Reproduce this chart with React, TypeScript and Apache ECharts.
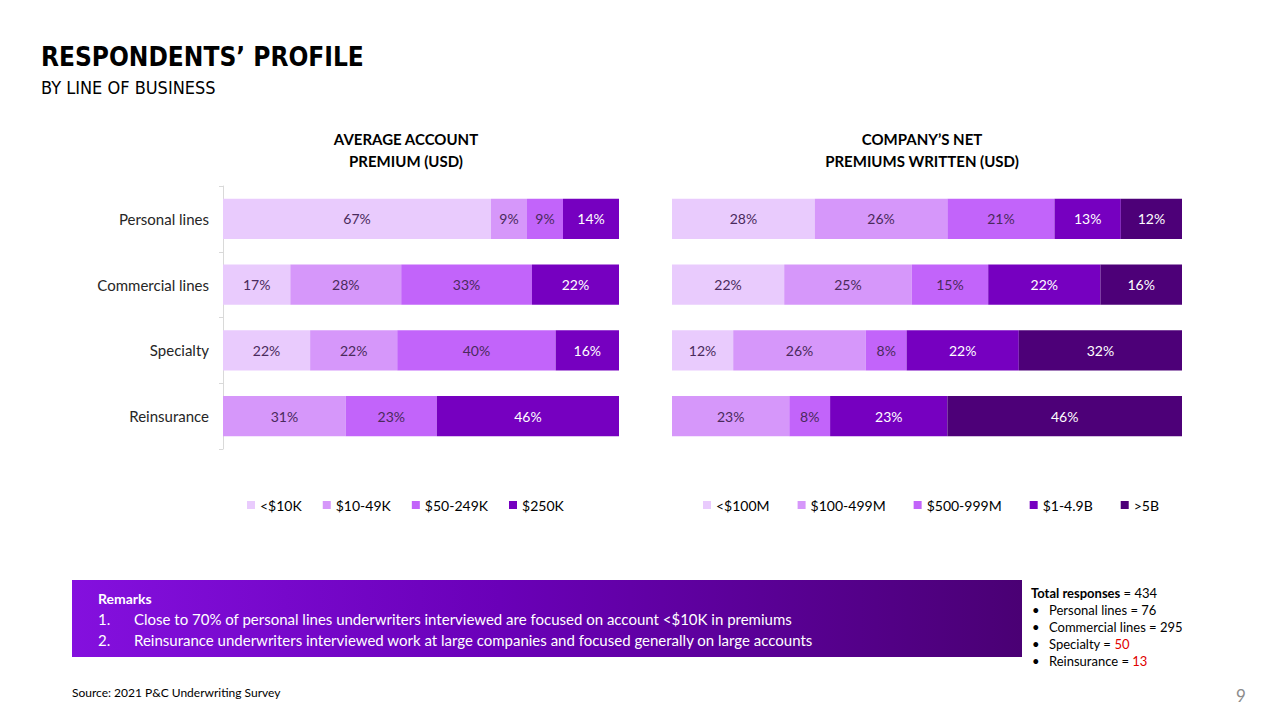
import React, { useEffect, useRef } from "react";
import * as echarts from "echarts";

const categories = ["Personal lines", "Commercial lines", "Specialty", "Reinsurance"];

const premiumBands = ["<$10K", "$10-49K", "$50-249K", "$250K"];
const premiumValues: number[][] = [
  [67, 17, 22, 0],
  [9, 28, 22, 31],
  [9, 33, 40, 23],
  [14, 22, 16, 46],
];

const companyBands = ["<$100M", "$100-499M", "$500-999M", "$1-4.9B", ">5B"];
const companyValues: number[][] = [
  [28, 22, 12, 0],
  [26, 25, 26, 23],
  [21, 15, 8, 8],
  [13, 22, 22, 23],
  [12, 16, 32, 46],
];

const premiumColors = ["#E9CBFD", "#D697FA", "#C264FA", "#7600C0"];
const companyColors = ["#E9CBFD", "#D697FA", "#C264FA", "#7600C0", "#4D0078"];
const labelColors = ["#4A2A5C", "#4A2A5C", "#4A2A5C", "#FFFFFF", "#FFFFFF"];

const remarks = [
  "Close to 70% of personal lines underwriters interviewed are focused on account <$10K in premiums",
  "Reinsurance underwriters interviewed work at large companies and focused generally on large accounts",
];

const totals = [
  "Personal lines = 76",
  "Commercial lines = 295",
  "Specialty = {r|50}",
  "Reinsurance = {r|13}",
];

const FONT = "Lato, 'Open Sans', sans-serif";
const NARROW = "'Liberation Sans Narrow', 'DejaVu Sans Condensed', 'Roboto Condensed', 'DejaVu Sans', sans-serif";

function normalize(values: number[][]): number[][] {
  const n = values[0].length;
  const sums = Array.from({ length: n }, (_, i) => values.reduce((s, row) => s + row[i], 0));
  return values.map((row) => row.map((v, i) => (v / sums[i]) * 100));
}

function buildSeries(
  names: string[],
  values: number[][],
  colors: string[],
  axisIndex: number,
  stack: string
) {
  const norm = normalize(values);
  return names.map((name, si) => ({
    name,
    type: "bar",
    stack,
    xAxisIndex: axisIndex,
    yAxisIndex: axisIndex,
    barCategoryGap: "39%",
    data: norm[si],
    itemStyle: { color: colors[si] },
    label: {
      show: true,
      position: "inside",
      fontFamily: FONT,
      fontSize: 14,
      color: labelColors[si],
      formatter: (p: any) => {
        const v = values[si][p.dataIndex];
        return v > 0 ? v + "%" : "";
      },
    },
  }));
}

export default function App() {
  const ref = useRef<HTMLDivElement>(null);
  useEffect(() => {
    if (!ref.current) return;
    const chart = echarts.init(ref.current, undefined, { renderer: "svg" });
    const text = (x: number, y: number, t: string, opts: any = {}) => ({
      type: "text",
      x,
      y,
      style: {
        text: t,
        fontFamily: FONT,
        fontSize: 14,
        fill: "#000",
        align: "left",
        verticalAlign: "middle",
        ...opts,
      },
    });
    const option: any = {
      animation: false,
      backgroundColor: "#FFFFFF",
      grid: [
        { left: 223, width: 396, top: 186, height: 263 },
        { left: 672, width: 510, top: 186, height: 263 },
      ],
      xAxis: [0, 1].map((i) => ({
        type: "value",
        gridIndex: i,
        min: 0,
        max: 100,
        show: false,
      })),
      yAxis: [
        {
          type: "category",
          gridIndex: 0,
          inverse: true,
          data: categories,
          axisLine: { show: true, lineStyle: { color: "#D9D9D9" } },
          axisTick: { show: true, length: 4, lineStyle: { color: "#D9D9D9" } },
          axisLabel: { fontFamily: FONT, fontSize: 15, color: "#262626", margin: 14 },
        },
        {
          type: "category",
          gridIndex: 1,
          inverse: true,
          data: categories,
          axisLine: { show: false },
          axisTick: { show: false },
          axisLabel: { show: false },
        },
      ],
      legend: [
        {
          data: premiumBands,
          left: 242,
          top: 493,
          icon: "rect",
          itemWidth: 8,
          itemHeight: 8,
          itemGap: 21,
          textStyle: { fontFamily: FONT, fontSize: 14, color: "#000" },
        },
        {
          data: companyBands,
          left: 698,
          top: 493,
          icon: "rect",
          itemWidth: 8,
          itemHeight: 8,
          itemGap: 28,
          textStyle: { fontFamily: FONT, fontSize: 14, color: "#000" },
        },
      ],
      series: [
        ...buildSeries(premiumBands, premiumValues, premiumColors, 0, "premium"),
        ...buildSeries(companyBands, companyValues, companyColors, 1, "company"),
      ],
      graphic: [
        text(41, 57, "RESPONDENTS’ PROFILE", {
          fontFamily: NARROW,
          fontSize: 26,
          fontWeight: "bold",
        }),
        text(41, 87, "BY LINE OF BUSINESS", { fontFamily: NARROW, fontSize: 18 }),
        text(406, 150, "AVERAGE ACCOUNT\nPREMIUM (USD)", {
          fontSize: 15,
          fontWeight: "bold",
          align: "center",
          lineHeight: 22,
        }),
        text(922, 150, "COMPANY’S NET\nPREMIUMS WRITTEN (USD)", {
          fontSize: 15,
          fontWeight: "bold",
          align: "center",
          lineHeight: 22,
        }),
        {
          type: "rect",
          shape: { x: 72, y: 580, width: 950, height: 77 },
          style: {
            fill: new echarts.graphic.LinearGradient(0, 0, 1, 0, [
              { offset: 0, color: "#8410DE" },
              { offset: 0.45, color: "#6A00B8" },
              { offset: 1, color: "#4A0074" },
            ]),
          },
        },
        text(98, 598, "Remarks", { fill: "#FFF", fontWeight: "bold", fontSize: 14 }),
        ...remarks.flatMap((r, i) => [
          text(98, 619 + i * 21, i + 1 + ".", { fill: "#FFF", fontSize: 15 }),
          text(134, 619 + i * 21, r, { fill: "#FFF", fontSize: 15 }),
        ]),
        text(1031, 593, "{b|Total responses} = 434", {
          fontSize: 13,
          rich: { b: { fontWeight: "bold", fontSize: 13, fontFamily: FONT } },
        }),
        ...totals.flatMap((t, i) => [
          text(1032, 610 + i * 17, "•", { fontSize: 13 }),
          text(1049, 610 + i * 17, t, {
            fontSize: 13,
            rich: { r: { fill: "#E00000", color: "#E00000", fontSize: 13, fontFamily: FONT } },
          }),
        ]),
        text(72, 692, "Source: 2021 P&C Underwriting Survey", { fontSize: 12 }),
        text(1236, 695, "9", { fontSize: 17, fill: "#8C8C8C" }),
      ],
    };
    chart.setOption(option);
    return () => chart.dispose();
  }, []);
  return (
    <div
      ref={ref}
      style={{ position: "fixed", left: 0, top: 0, width: 1280, height: 720 }}
    />
  );
}
